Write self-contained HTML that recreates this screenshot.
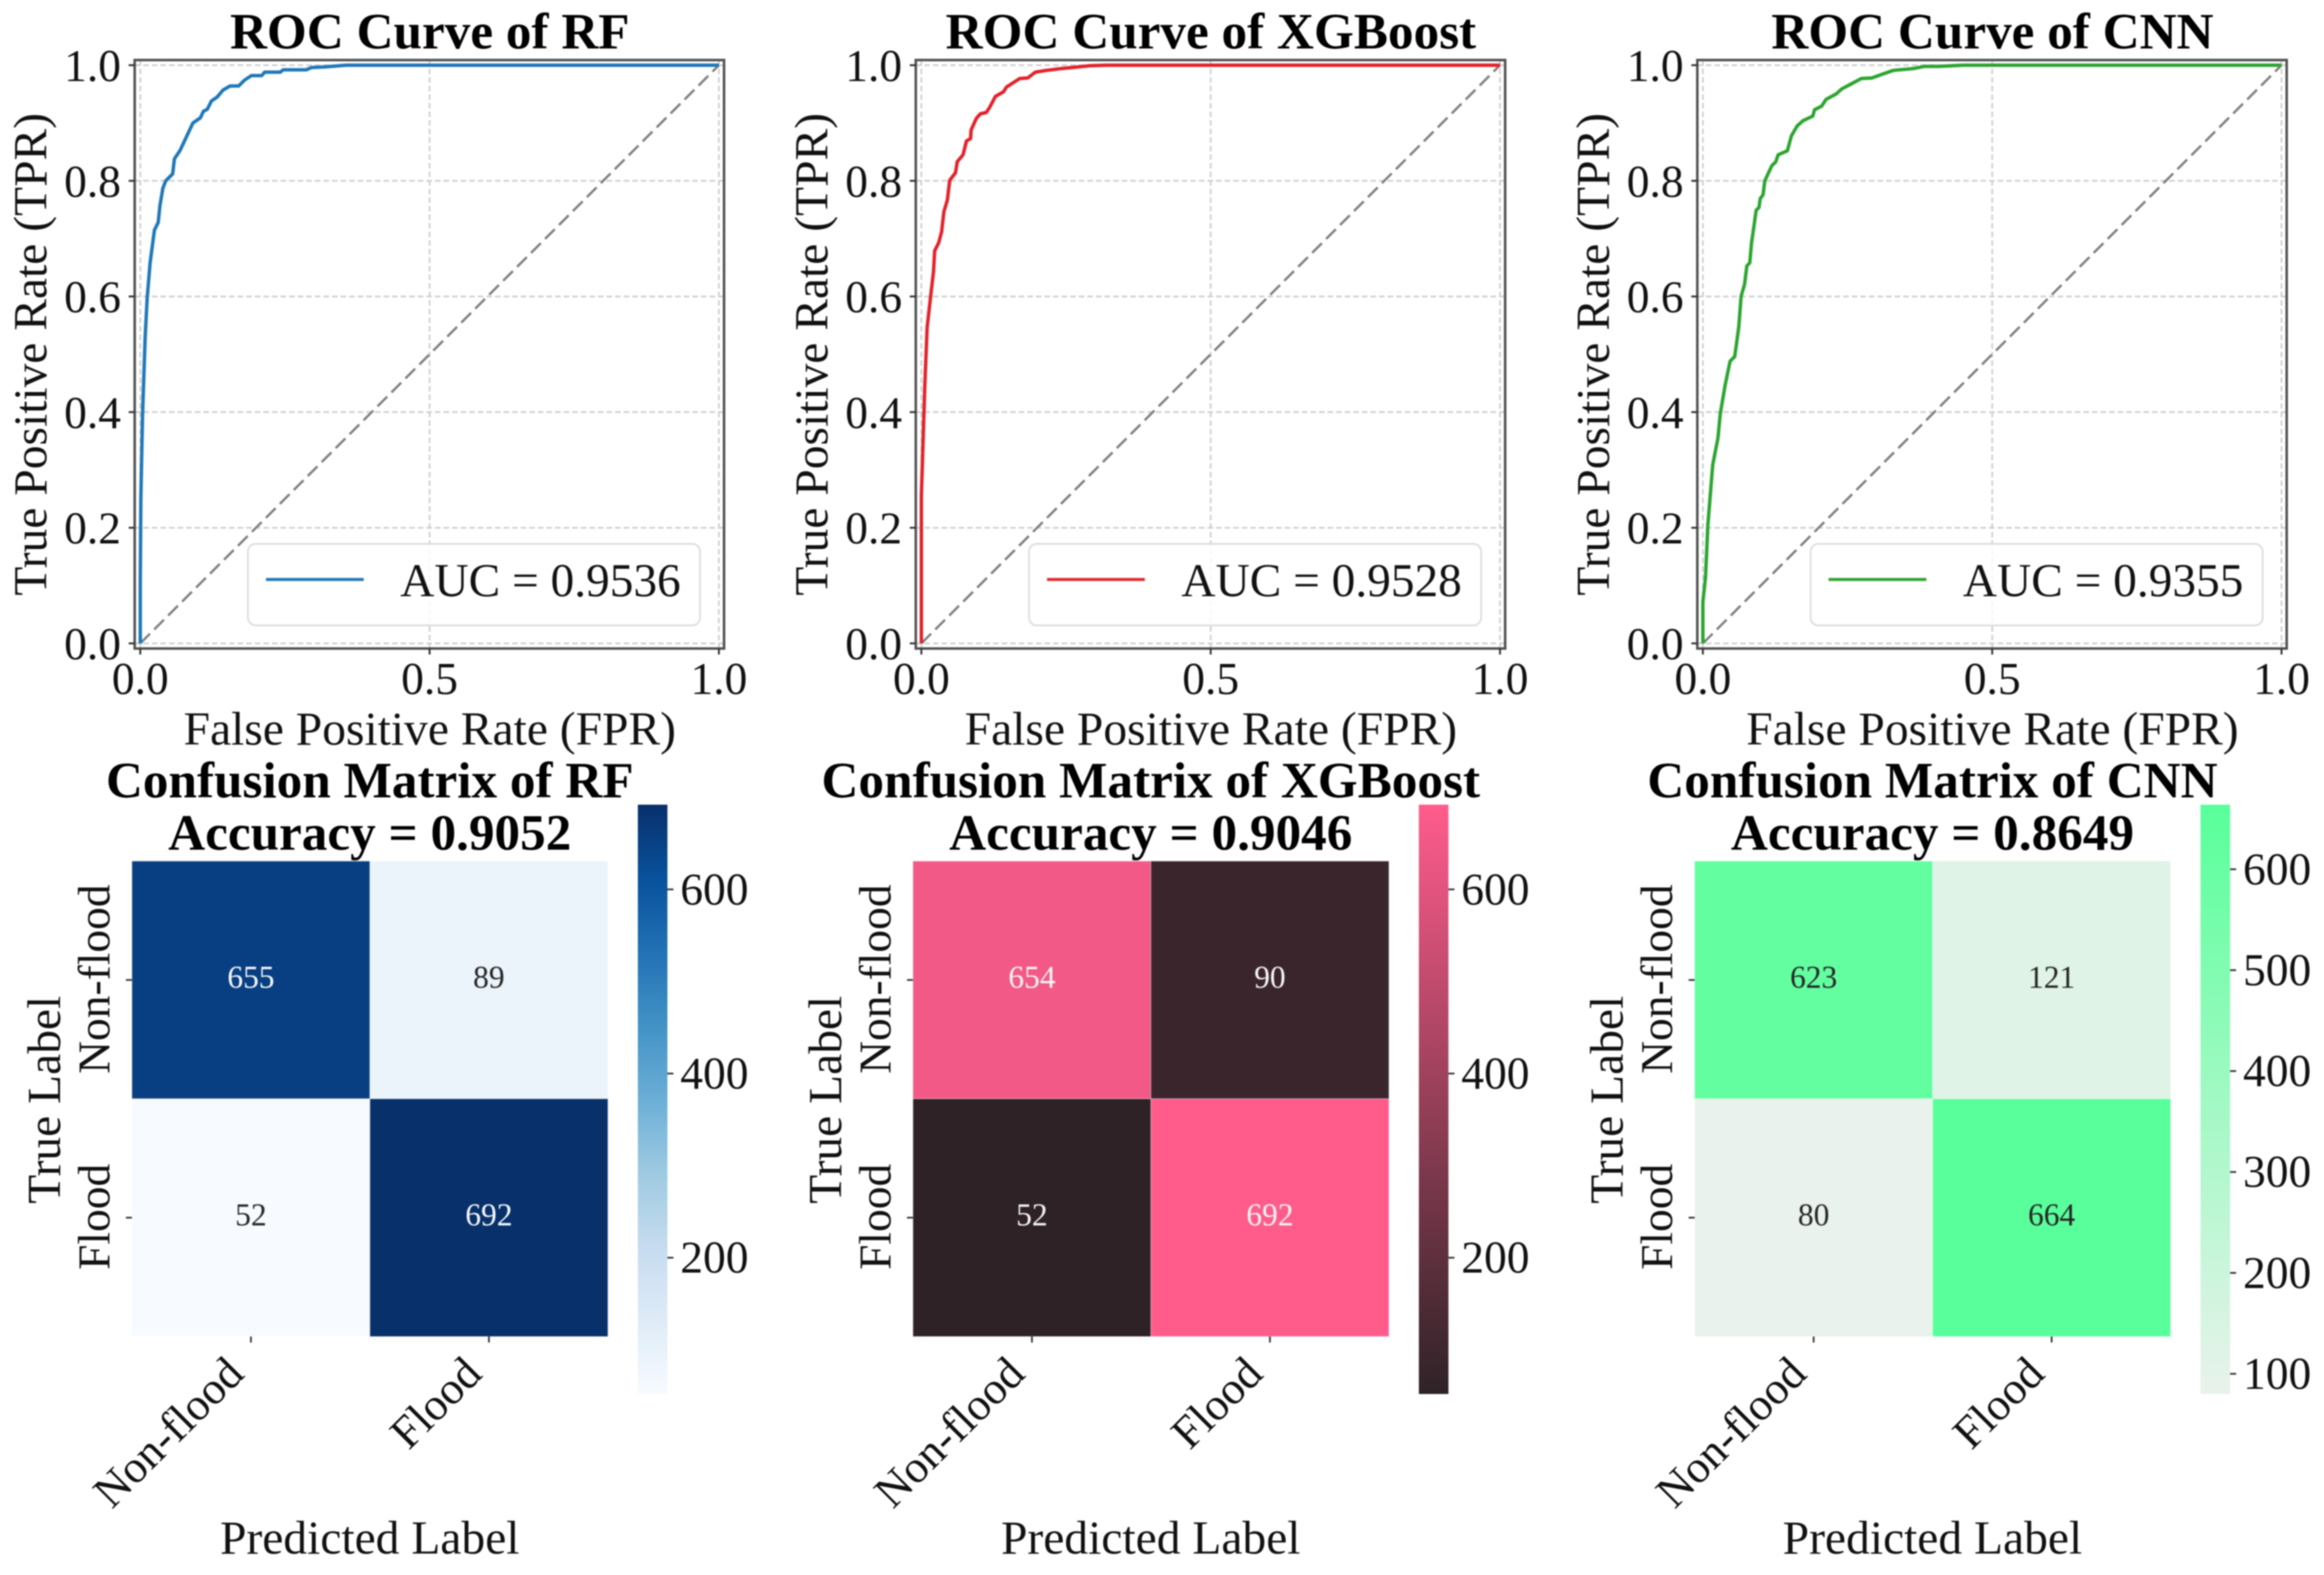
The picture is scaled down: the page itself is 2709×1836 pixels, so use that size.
<!DOCTYPE html>
<html lang="en">
<head>
<meta charset="utf-8">
<title>ROC Curves and Confusion Matrices</title>
<style>
html,body{margin:0;padding:0;background:#fff;}
body{width:2709px;height:1836px;overflow:hidden;position:relative;}
svg{position:absolute;left:0;top:0;filter:blur(0.9px);}
text{font-family:"Liberation Serif",serif;fill:#111;}
.title{font-weight:bold;font-size:59.7px;text-anchor:middle;fill:#000;}
.axis-label{font-size:55.4px;text-anchor:middle;}
.tick{font-size:53px;}
.legend-text{font-size:55.2px;}
.cell-val{font-size:36.7px;text-anchor:middle;}
</style>
</head>
<body>
<svg id="fig" xmlns="http://www.w3.org/2000/svg" width="2709" height="1836" viewBox="0 0 2709 1836">
<defs id="defs"></defs>
<rect x="0" y="0" width="2709" height="1836" fill="#fff"/>

<!-- ROC RF -->
<g id="roc-rf" transform="translate(0,0)">
  <g id="roc-rf-marks"></g>
  <rect x="157" y="70" width="687" height="686" fill="none" stroke="#555" stroke-width="3"/>
  <rect x="289" y="634" width="527" height="95" rx="9" fill="#fff" fill-opacity="0.8" stroke="#ddd" stroke-width="2"/>
  <line x1="310" x2="424" y1="675.5" y2="675.5" stroke="#1f78b8" stroke-width="3.5"/>
  <text class="legend-text" x="466.5" y="695">AUC = 0.9536</text>
  <text class="title" x="501" y="56.5">ROC Curve of RF</text>
  <text class="axis-label" x="501" y="868">False Positive Rate (FPR)</text>
  <text class="axis-label" transform="translate(54,413) rotate(-90)">True Positive Rate (TPR)</text>
</g>

<!-- ROC XGBoost -->
<g id="roc-xgb" transform="translate(910.5,0)">
  <g id="roc-xgb-marks"></g>
  <rect x="157" y="70" width="687" height="686" fill="none" stroke="#555" stroke-width="3"/>
  <rect x="289" y="634" width="527" height="95" rx="9" fill="#fff" fill-opacity="0.8" stroke="#ddd" stroke-width="2"/>
  <line x1="310" x2="424" y1="675.5" y2="675.5" stroke="#e3282c" stroke-width="3.5"/>
  <text class="legend-text" x="466.5" y="695">AUC = 0.9528</text>
  <text class="title" x="501" y="56.5">ROC Curve of XGBoost</text>
  <text class="axis-label" x="501" y="868">False Positive Rate (FPR)</text>
  <text class="axis-label" transform="translate(54,413) rotate(-90)">True Positive Rate (TPR)</text>
</g>

<!-- ROC CNN -->
<g id="roc-cnn" transform="translate(1821.5,0)">
  <g id="roc-cnn-marks"></g>
  <rect x="157" y="70" width="687" height="686" fill="none" stroke="#555" stroke-width="3"/>
  <rect x="289" y="634" width="527" height="95" rx="9" fill="#fff" fill-opacity="0.8" stroke="#ddd" stroke-width="2"/>
  <line x1="310" x2="424" y1="675.5" y2="675.5" stroke="#2ca530" stroke-width="3.5"/>
  <text class="legend-text" x="466.5" y="695">AUC = 0.9355</text>
  <text class="title" x="501" y="56.5">ROC Curve of CNN</text>
  <text class="axis-label" x="501" y="868">False Positive Rate (FPR)</text>
  <text class="axis-label" transform="translate(54,413) rotate(-90)">True Positive Rate (TPR)</text>
</g>

<!-- CM RF -->
<g id="cm-rf" transform="translate(0,0)">
  <g id="cm-rf-marks"></g>
  <text class="title" x="431" y="929.5">Confusion Matrix of RF</text>
  <text class="title" x="431" y="990.5">Accuracy = 0.9052</text>
  <text class="axis-label" x="431" y="1811">Predicted Label</text>
  <text class="axis-label" transform="translate(70,1282) rotate(-90)">True Label</text>
</g>

<!-- CM XGB -->
<g id="cm-xgb" transform="translate(910.4,0)">
  <g id="cm-xgb-marks"></g>
  <text class="title" x="431" y="929.5">Confusion Matrix of XGBoost</text>
  <text class="title" x="431" y="990.5">Accuracy = 0.9046</text>
  <text class="axis-label" x="431" y="1811">Predicted Label</text>
  <text class="axis-label" transform="translate(70,1282) rotate(-90)">True Label</text>
</g>

<!-- CM CNN -->
<g id="cm-cnn" transform="translate(1821.6,0)">
  <g id="cm-cnn-marks"></g>
  <text class="title" x="431" y="929.5">Confusion Matrix of CNN</text>
  <text class="title" x="431" y="990.5">Accuracy = 0.8649</text>
  <text class="axis-label" x="431" y="1811">Predicted Label</text>
  <text class="axis-label" transform="translate(70,1282) rotate(-90)">True Label</text>
</g>
</svg>

<script>
// ---------- chart data ----------
const rocXTicks = [0, 0.5, 1];
const rocXTickLabels = ['0.0', '0.5', '1.0'];
const rocYTicks = [0, 0.2, 0.4, 0.6, 0.8, 1];
const rocYTickLabels = ['0.0', '0.2', '0.4', '0.6', '0.8', '1.0'];
const chanceX = [0, 1];
const chanceY = [0, 1];

const rfFpr = [0,0,0.001,0.004,0.0085,0.012,0.017,0.0245,0.031,0.034,0.039,0.044,0.056,0.059,0.069,0.083,0.091,0.104,0.109,0.116,0.123,0.133,0.143,0.155,0.170,0.18,0.192,0.21,0.215,0.242,0.247,0.287,0.296,0.319,0.356,1];
const rfTpr = [0,0.1,0.25,0.397,0.53,0.598,0.658,0.715,0.728,0.757,0.787,0.8,0.812,0.838,0.853,0.883,0.9,0.909,0.92,0.924,0.938,0.945,0.957,0.964,0.964,0.974,0.982,0.982,0.988,0.988,0.992,0.992,0.996,0.997,1,1];

const xgbFpr = [0,0,0.006,0.010,0.016,0.021,0.023,0.030,0.035,0.039,0.045,0.049,0.059,0.062,0.072,0.078,0.085,0.086,0.095,0.102,0.112,0.118,0.128,0.142,0.147,0.170,0.184,0.197,0.216,0.241,0.271,0.291,0.32,1];
const xgbTpr = [0,0.255,0.447,0.547,0.6,0.643,0.679,0.693,0.712,0.747,0.767,0.801,0.814,0.833,0.845,0.869,0.873,0.888,0.908,0.916,0.918,0.927,0.946,0.954,0.962,0.977,0.978,0.988,0.991,0.994,0.997,0.999,1,1];

const cnnFpr = [0,0,0.0045,0.0086,0.017,0.026,0.03,0.0385,0.047,0.055,0.062,0.066,0.072,0.076,0.081,0.084,0.089,0.092,0.097,0.099,0.104,0.107,0.119,0.126,0.130,0.146,0.153,0.163,0.173,0.190,0.193,0.205,0.213,0.230,0.240,0.257,0.274,0.292,0.309,0.329,0.363,0.383,0.408,0.45,1];
const cnnTpr = [0,0.072,0.114,0.205,0.309,0.355,0.397,0.447,0.488,0.496,0.547,0.6,0.621,0.653,0.658,0.692,0.727,0.749,0.754,0.769,0.776,0.8,0.826,0.833,0.845,0.852,0.878,0.895,0.904,0.912,0.923,0.929,0.941,0.95,0.959,0.968,0.977,0.978,0.984,0.991,0.994,0.998,0.998,1,1];

const classLabels = ['Non-flood', 'Flood'];
const rfMatrix = [[655, 89], [52, 692]];
const xgbMatrix = [[654, 90], [52, 692]];
const cnnMatrix = [[623, 121], [80, 664]];

const rfCbarTicks = [200, 400, 600];
const xgbCbarTicks = [200, 400, 600];
const cnnCbarTicks = [100, 200, 300, 400, 500, 600];

const bluesColors = ['#f7fbff','#deebf7','#c6dbef','#9ecae1','#6baed6','#4292c6','#2171b5','#08519c','#08306b'];
const pinkColors = ['#2e2226','#ff5c8c'];
const greenColors = ['#e9f2ec','#58ff9a'];

// ---------- helpers ----------
const NS = 'http://www.w3.org/2000/svg';
function svgEl(tag, parent) {
  const el = document.createElementNS(NS, tag);
  parent.appendChild(el);
  return el;
}
function hexRgb(h) { return [1, 3, 5].map(i => parseInt(h.substr(i, 2), 16)); }
function colorAt(colors, t) {
  t = Math.max(0, Math.min(1, t));
  const p = t * (colors.length - 1);
  const i = Math.min(Math.floor(p), colors.length - 2);
  const f = p - i;
  const a = hexRgb(colors[i]), b = hexRgb(colors[i + 1]);
  return 'rgb(' + a.map((v, k) => Math.round(v + (b[k] - v) * f)).join(',') + ')';
}

// ---------- ROC panels ----------
const rocGeom = { xZero: 163.5, xOne: 838, yZero: 750, yOne: 76, left: 157, right: 844, top: 70, bottom: 756 };
function rocX(v) { return rocGeom.xZero + v * (rocGeom.xOne - rocGeom.xZero); }
function rocY(v) { return rocGeom.yZero + v * (rocGeom.yOne - rocGeom.yZero); }
function linePath(xs, ys) {
  return xs.map((v, i) => (i ? 'L' : 'M') + rocX(v).toFixed(2) + ' ' + rocY(ys[i]).toFixed(2)).join('');
}

function drawRoc(id, model, xs, ys, color) {
  const g = document.getElementById(id + '-marks');
  const panel = document.getElementById(id);

  rocXTicks.forEach((v, i) => {
    const grid = svgEl('line', g);
    grid.setAttribute('x1', rocX(v));
    grid.setAttribute('x2', rocX(v));
    grid.setAttribute('y1', rocGeom.top);
    grid.setAttribute('y2', rocGeom.bottom);
    grid.setAttribute('stroke', '#cfcfcf');
    grid.setAttribute('stroke-width', '2');
    grid.setAttribute('stroke-dasharray', '6.5 3.5');
    
    

    const tick = svgEl('line', panel);
    tick.setAttribute('x1', rocX(v));
    tick.setAttribute('x2', rocX(v));
    tick.setAttribute('y1', rocGeom.bottom);
    tick.setAttribute('y2', rocGeom.bottom + 7);
    tick.setAttribute('stroke', '#333');
    tick.setAttribute('stroke-width', '2.2');
    
    

    const label = svgEl('text', panel);
    label.setAttribute('class', 'tick');
    label.setAttribute('x', rocX(v));
    label.setAttribute('y', 809);
    label.setAttribute('text-anchor', 'middle');
    label.textContent = rocXTickLabels[i];
    
    
  });

  rocYTicks.forEach((v, i) => {
    const grid = svgEl('line', g);
    grid.setAttribute('x1', rocGeom.left);
    grid.setAttribute('x2', rocGeom.right);
    grid.setAttribute('y1', rocY(v));
    grid.setAttribute('y2', rocY(v));
    grid.setAttribute('stroke', '#cfcfcf');
    grid.setAttribute('stroke-width', '2');
    grid.setAttribute('stroke-dasharray', '6.5 3.5');
    
    

    const tick = svgEl('line', panel);
    tick.setAttribute('x1', rocGeom.left - 7);
    tick.setAttribute('x2', rocGeom.left);
    tick.setAttribute('y1', rocY(v));
    tick.setAttribute('y2', rocY(v));
    tick.setAttribute('stroke', '#333');
    tick.setAttribute('stroke-width', '2.2');
    
    

    const label = svgEl('text', panel);
    label.setAttribute('class', 'tick');
    label.setAttribute('x', 141);
    label.setAttribute('y', rocY(v) + 18.5);
    label.setAttribute('text-anchor', 'end');
    label.textContent = rocYTickLabels[i];
    
    
  });

  const chance = svgEl('path', g);
  chance.setAttribute('d', linePath(chanceX, chanceY));
  chance.setAttribute('fill', 'none');
  chance.setAttribute('stroke', '#808080');
  chance.setAttribute('stroke-width', '2.8');
  chance.setAttribute('stroke-dasharray', '16 7');
  
  

  const curve = svgEl('path', g);
  curve.setAttribute('d', linePath(xs, ys));
  curve.setAttribute('fill', 'none');
  curve.setAttribute('stroke', color);
  curve.setAttribute('stroke-width', '4');
  curve.setAttribute('stroke-linejoin', 'round');
  
  
}

// ---------- confusion matrix panels ----------
const cmGeom = { left: 153.8, right: 708.6, top: 1003.8, bottom: 1558, cbLeft: 743.5, cbRight: 778, cbTop: 938, cbBottom: 1625 };

function drawMatrix(id, model, matrix, colors, cbarTicks, textColor) {
  const g = document.getElementById(id + '-marks');
  const flat = matrix[0].concat(matrix[1]);
  const vmin = Math.min.apply(null, flat);
  const vmax = Math.max.apply(null, flat);
  const cellW = (cmGeom.right - cmGeom.left) / matrix[0].length;
  const cellH = (cmGeom.bottom - cmGeom.top) / matrix.length;
  const colX = c => cmGeom.left + c * cellW;
  const rowY = r => cmGeom.top + r * cellH;
  const cbY = v => cmGeom.cbBottom - (v - vmin) / (vmax - vmin) * (cmGeom.cbBottom - cmGeom.cbTop);

  matrix.forEach((row, r) => row.forEach((v, c) => {
    const cell = svgEl('rect', g);
    cell.setAttribute('x', colX(c));
    cell.setAttribute('y', rowY(r));
    cell.setAttribute('width', cellW);
    cell.setAttribute('height', cellH);
    cell.setAttribute('fill', colorAt(colors, (v - vmin) / (vmax - vmin)));
    cell.setAttribute('stroke', 'rgba(255,255,255,0.3)');
    cell.setAttribute('stroke-width', '1');
    
    
  }));
  matrix.forEach((row, r) => row.forEach((v, c) => {
    const t = svgEl('text', g);
    t.setAttribute('class', 'cell-val');
    t.setAttribute('x', colX(c) + cellW / 2);
    t.setAttribute('y', rowY(r) + cellH / 2 + 9);
    t.style.fill = textColor(v, vmin, vmax);
    t.textContent = String(v);
    
    
  }));

  classLabels.forEach((name, i) => {
    const xt = svgEl('line', g);
    xt.setAttribute('x1', colX(i) + cellW / 2);
    xt.setAttribute('x2', colX(i) + cellW / 2);
    xt.setAttribute('y1', cmGeom.bottom);
    xt.setAttribute('y2', cmGeom.bottom + 7);
    xt.setAttribute('stroke', '#333');
    xt.setAttribute('stroke-width', '2');
    
    

    const xl = svgEl('text', g);
    xl.setAttribute('class', 'tick');
    xl.setAttribute('text-anchor', 'end');
    xl.setAttribute('transform', 'translate(' + (colX(i) + cellW / 2 - 6) + ',' + (cmGeom.bottom + 46) + ') rotate(-45)');
    xl.textContent = name;
    
    

    const yt = svgEl('line', g);
    yt.setAttribute('x1', cmGeom.left - 7);
    yt.setAttribute('x2', cmGeom.left);
    yt.setAttribute('y1', rowY(i) + cellH / 2);
    yt.setAttribute('y2', rowY(i) + cellH / 2);
    yt.setAttribute('stroke', '#333');
    yt.setAttribute('stroke-width', '2');
    
    

    const yl = svgEl('text', g);
    yl.setAttribute('class', 'tick');
    yl.setAttribute('text-anchor', 'middle');
    yl.setAttribute('transform', 'translate(127.5,' + (rowY(i) + cellH / 2 - 1) + ') rotate(-90)');
    yl.textContent = name;
    
    
  });

  const defs = document.getElementById('defs');
  const grad = svgEl('linearGradient', defs);
  grad.setAttribute('id', id + '-grad');
  grad.setAttribute('x1', '0');
  grad.setAttribute('x2', '0');
  grad.setAttribute('y1', '1');
  grad.setAttribute('y2', '0');
  colors.forEach((col, i) => {
    const s = svgEl('stop', grad);
    s.setAttribute('offset', i / (colors.length - 1));
    s.setAttribute('stop-color', col);
  });
  const bar = svgEl('rect', g);
  bar.setAttribute('x', cmGeom.cbLeft);
  bar.setAttribute('y', cbY(vmax));
  bar.setAttribute('width', cmGeom.cbRight - cmGeom.cbLeft);
  bar.setAttribute('height', cbY(vmin) - cbY(vmax));
  bar.setAttribute('fill', 'url(#' + id + '-grad)');
  
  

  cbarTicks.forEach(v => {
    const t = svgEl('line', g);
    t.setAttribute('x1', cmGeom.cbRight);
    t.setAttribute('x2', cmGeom.cbRight + 7);
    t.setAttribute('y1', cbY(v));
    t.setAttribute('y2', cbY(v));
    t.setAttribute('stroke', '#333');
    t.setAttribute('stroke-width', '2');
    
    

    const l = svgEl('text', g);
    l.setAttribute('class', 'tick');
    l.setAttribute('x', cmGeom.cbRight + 15);
    l.setAttribute('y', cbY(v) + 17.5);
    l.textContent = String(v);
    
    
  });
}

drawRoc('roc-rf', 'rf', rfFpr, rfTpr, '#1f78b8');
drawRoc('roc-xgb', 'xgboost', xgbFpr, xgbTpr, '#e3222a');
drawRoc('roc-cnn', 'cnn', cnnFpr, cnnTpr, '#2ca530');

drawMatrix('cm-rf', 'rf', rfMatrix, bluesColors, rfCbarTicks, (v, a, b) => ((v - a) / (b - a) > 0.5 ? '#f4f8fc' : '#262626'));
drawMatrix('cm-xgb', 'xgboost', xgbMatrix, pinkColors, xgbCbarTicks, () => '#f5f5f5');
drawMatrix('cm-cnn', 'cnn', cnnMatrix, greenColors, cnnCbarTicks, () => '#262626');
</script>
</body>
</html>
